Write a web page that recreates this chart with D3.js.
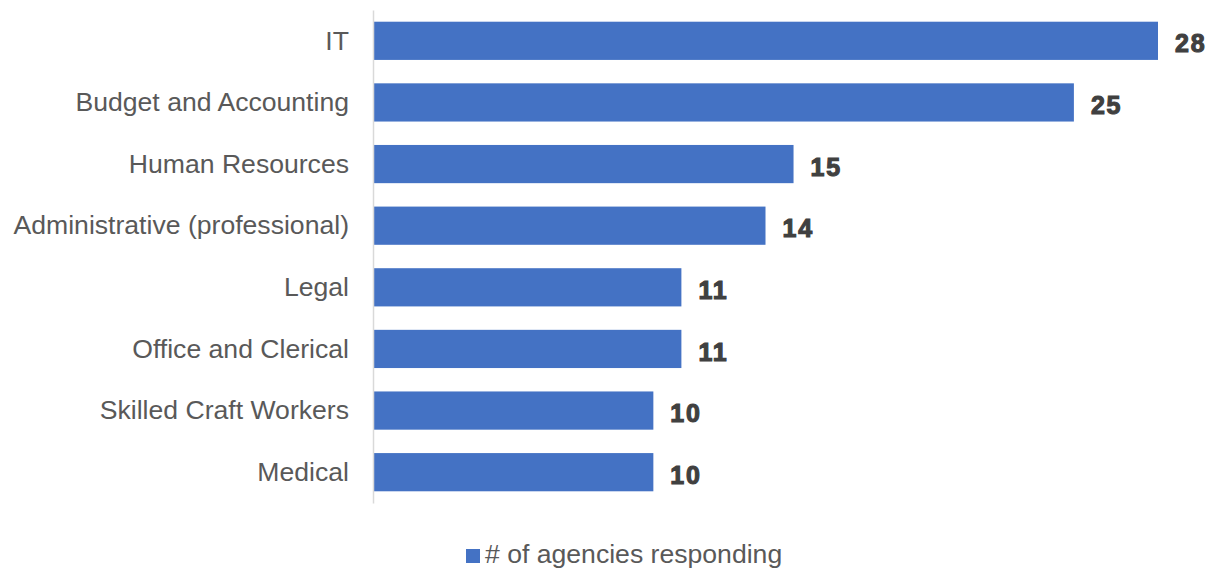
<!DOCTYPE html>
<html>
<head>
<meta charset="utf-8">
<script src="https://cdn.jsdelivr.net/npm/d3@7"></script>
<style>
  body { margin: 0; background: #fff; }
  svg { display: block; font-family: "Liberation Sans", Arial, sans-serif; }
</style>
</head>
<body>
<script>
const categories = [
  "IT",
  "Budget and Accounting",
  "Human Resources",
  "Administrative (professional)",
  "Legal",
  "Office and Clerical",
  "Skilled Craft Workers",
  "Medical",
];
const agencies = [28, 25, 15, 14, 11, 11, 10, 10];
const seriesName = "# of agencies responding";

const width = 1217;
const height = 569;
const plotLeft = 373;
const barColor = "#4472c4";

const svg = d3
  .select("body")
  .append("svg")
  .attr("width", width)
  .attr("height", height);

const x = d3.scaleLinear().domain([0, 28]).range([plotLeft, 1158]);
const y = d3
  .scaleBand()
  .domain(categories)
  .range([10, 503])
  .paddingInner(0.38)
  .paddingOuter(0.19);

// bars
svg
  .append("g")
  .selectAll("rect")
  .data(categories)
  .join("rect")
  .attr("x", x(0))
  .attr("y", (d) => y(d))
  .attr("width", (d, i) => x(agencies[i]) - x(0))
  .attr("height", y.bandwidth())
  .attr("fill", barColor);

// category axis
const axis = svg
  .append("g")
  .attr("transform", `translate(${plotLeft}, 0)`)
  .call(d3.axisLeft(y).tickSize(0).tickPadding(24));
axis.select(".domain").attr("stroke", "#d9d9d9").attr("stroke-width", 1.5);
axis
  .selectAll("text")
  .attr("font-size", "26.6px")
  .attr("font-family", "Liberation Sans, Arial, sans-serif")
  .attr("fill", "#595959")
  .attr("dy", "0.33em");

// value labels
svg
  .append("g")
  .selectAll("text")
  .data(categories)
  .join("text")
  .attr("x", (d, i) => x(agencies[i]) + 17)
  .attr("y", (d) => y(d) + y.bandwidth() / 2 + 11.6)
  .attr("font-size", "25px")
  .attr("font-weight", "bold")
  .attr("letter-spacing", "1.8px")
  .attr("fill", "#404040")
  .attr("stroke", "#404040")
  .attr("stroke-width", 1.1)
  .text((d, i) => agencies[i]);

// legend
const legend = svg.append("g");
legend
  .append("rect")
  .attr("x", 466)
  .attr("y", 549)
  .attr("width", 14)
  .attr("height", 14)
  .attr("fill", barColor);
legend
  .append("text")
  .attr("x", 485)
  .attr("y", 563)
  .attr("font-size", "26.6px")
  .attr("fill", "#595959")
  .text(seriesName);
</script>
</body>
</html>
